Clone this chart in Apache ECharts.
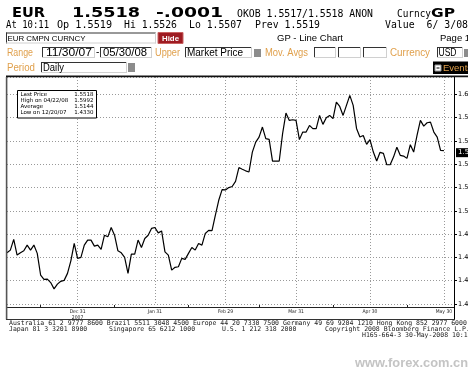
<!DOCTYPE html>
<html><head><meta charset="utf-8">
<script src="https://cdn.jsdelivr.net/npm/echarts@6/dist/echarts.min.js"></script>
<style>html,body{margin:0;padding:0;background:#fff}#c{width:468px;height:369px}</style>
</head><body><div id="c"></div>
<script>
// ---- data ----
const startDate = [2007, 10, 30];   // 30 Nov 2007 (UTC, month 0-based)
const endDate = [2008, 4, 30];      // 30 May 2008
const values = [
1.4640,1.4663,1.4755,1.4620,1.4640,1.4657,1.4706,1.4663,1.4706,1.4635,
1.4449,1.4412,1.4414,1.4384,1.4330,1.4371,1.4395,1.4403,1.4463,1.4571,
1.4720,1.4592,1.4600,1.4706,1.4749,1.4749,1.4697,1.4706,1.4669,1.4791,
1.4777,1.4857,1.4791,1.4657,1.4640,1.4600,1.4463,1.4629,1.4629,1.4749,
1.4686,1.4763,1.4791,1.4849,1.4857,1.4811,1.4828,1.4648,1.4620,1.4491,
1.4515,1.4520,1.4592,1.4583,1.4635,1.4686,1.4663,1.4720,1.4706,1.4806,
1.4832,1.4830,1.4963,1.5091,1.5183,1.5180,1.5200,1.5209,1.5254,1.5372,
1.5357,1.5344,1.5334,1.5505,1.5591,1.5634,1.5720,1.5620,1.5614,1.5428,
1.5428,1.5428,1.5663,1.5840,1.5777,1.5783,1.5777,1.5612,1.5677,1.5677,
1.5734,1.5706,1.5706,1.5820,1.5743,1.5800,1.5820,1.5792,1.5934,1.5897,
1.5820,1.5906,1.5992,1.5906,1.5708,1.5634,1.5648,1.5571,1.5612,1.5505,
1.5428,1.5503,1.5494,1.5396,1.5396,1.5462,1.5546,1.5477,1.5471,1.5451,
1.5569,1.5505,1.5648,1.5777,1.5728,1.5757,1.5762,1.5677,1.5634,1.5520,
1.5518
];
const monthEndDates = ['2007-12-31','2008-01-31','2008-02-29','2008-03-31','2008-04-30','2008-05-30'];
const monthEndLabels = ['Dec 31\n2007','Jan 31','Feb 29','Mar 31','Apr 30','May 30'];
const midTickDates = ['2007-12-14','2008-01-15','2008-02-14','2008-03-14','2008-04-15','2008-05-15'];
const yMin = 1.42, yMax = 1.615, yStep = 0.02;
const lastPrice = 1.5518;
const legendRows = [['Last Price','1.5518'],['High on 04/22/08','1.5992'],['Average','1.5144'],['Low on 12/20/07','1.4330']];
const padDays = 3;

// ---- categories: weekdays of the range ----
const categories = [];
{
  let t = Date.UTC(startDate[0], startDate[1], startDate[2]);
  const end = Date.UTC(endDate[0], endDate[1], endDate[2]);
  while (t <= end) {
    const d = new Date(t);
    const wd = d.getUTCDay();
    if (wd !== 0 && wd !== 6) categories.push(d.toISOString().slice(0, 10));
    t += 86400000;
  }
  for (let i = 0; i < padDays; i++) categories.push('pad' + i);
}
const labelIdx = monthEndDates.map(d => categories.indexOf(d));
const midIdx = midTickDates.map(d => categories.indexOf(d));

// ---- helpers for the terminal header ----
const mctx = document.createElement('canvas').getContext('2d');
function T(text, x, y, w, font, fill, extra) {
  mctx.font = font;
  const m = mctx.measureText(text).width;
  return Object.assign({ type: 'text', x: x, y: y, scaleX: w ? w / m : 1, z: 20,
    style: { text: text, font: font, fill: fill || '#000', verticalAlign: 'middle' } }, extra || {});
}
function L(x1, y1, x2, y2, stroke, lw) {
  return { type: 'line', z: 20, shape: { x1, y1, x2, y2 }, style: { stroke: stroke || '#000', lineWidth: lw || 1 } };
}
function R(x, y, w, h, fill, stroke) {
  return { type: 'rect', z: 19, shape: { x, y, width: w, height: h }, style: { fill: fill, stroke: stroke || null, lineWidth: 1 } };
}
function box(x, y, w, h) {
  return [R(x, y, w, h, '#fff'), L(x, y + 0.5, x + w, y + 0.5, '#333'), L(x + 0.5, y, x + 0.5, y + h, '#333'),
          L(x, y + h - 0.5, x + w, y + h - 0.5, '#d0d0d0'), L(x + w - 0.5, y, x + w - 0.5, y + h, '#d0d0d0')];
}
const ORANGE = '#E0A04C';
const BIG = 'bold 14px "DejaVu Sans"';
const MONO = '10.5px "DejaVu Sans Mono"';
const SANS10 = '10px "Liberation Sans"';
const FOOT = '6.5px "DejaVu Sans Mono"';

const g = [];
// line 1
g.push(T('EUR', 12, 13.5, 33, BIG));
g.push(T('1.5518', 72, 13.5, 68, BIG));
g.push(T('-.0001', 156, 13.5, 67, BIG));
g.push(T('OKOB 1.5517/1.5518 ANON', 237, 14, 136, MONO));
g.push(T('Curncy', 397, 14, 34, MONO));
g.push(T('GP', 431, 13.5, 24, 'bold 13px "DejaVu Sans"'));
// line 2
g.push(T('At 10:11', 6, 25, 43, MONO));
g.push(T('Op 1.5519', 57, 25, 55, MONO));
g.push(T('Hi 1.5526', 124, 25, 53, MONO));
g.push(T('Lo 1.5507', 189, 25, 53, MONO));
g.push(T('Prev 1.5519', 255, 25, 65, MONO));
g.push(T('Value  6/ 3/08', 385, 25, 83, MONO));
// line 3
g.push(...box(6, 32.5, 150, 11));
g.push(T('EUR CMPN CURNCY', 7.5, 38.5, 78, '8px "Liberation Sans"'));
g.push(R(158, 32.5, 25, 11, '#9E1B22', '#c86060'));
g.push(T('Hide', 162, 38.5, 17, 'bold 8px "Liberation Sans"', '#fff'));
g.push(T('GP - Line Chart', 277, 38.5, 66, '9.5px "Liberation Sans"'));
g.push(T('Page 1', 440, 38.5, 0, '9.5px "Liberation Sans"'));
// line 4
g.push(T('Range', 7, 53, 26, SANS10, ORANGE));
g.push(...box(42, 47, 53, 11)); g.push(T('11/30/07', 46, 53, 46, SANS10));
g.push(T('-', 96, 52.5, 0, SANS10));
g.push(...box(100, 47, 52, 11)); g.push(T('05/30/08', 103, 53, 44, SANS10));
g.push(T('Upper', 155, 53, 25, SANS10, ORANGE));
g.push(...box(185, 47, 67, 11)); g.push(T('Market Price', 187, 53, 56, SANS10));
g.push(R(254, 49, 7, 8, '#8c8c8c'));
g.push(T('Mov. Avgs', 265, 53, 43, SANS10, ORANGE));
g.push(...box(314, 47, 22, 11)); g.push(...box(338, 47, 23, 11)); g.push(...box(363, 47, 24, 11));
g.push(T('Currency', 390, 53, 40, SANS10, ORANGE));
g.push(...box(437, 47, 26, 11)); g.push(T('USD', 438.5, 53, 18, SANS10));
g.push(R(464, 49, 7, 8, '#8c8c8c'));
// line 5
g.push(T('Period', 7, 68, 28, SANS10, ORANGE));
g.push(...box(41, 62, 86, 11)); g.push(T('Daily', 43, 68, 21, SANS10));
g.push(R(128, 63, 7, 9, '#8c8c8c'));
g.push(R(433, 61.5, 36, 12.5, '#000'));
g.push(R(435, 65, 6, 6, '#fff', '#999'));
g.push(L(436.5, 68, 439.5, 68, '#000'));
g.push(T('Events', 443, 68, 0, '9.5px "Liberation Sans"', ORANGE));
// separator and chart frame
g.push(R(6, 75.5, 462, 1.8, '#111'));
g.push(R(5.8, 77, 1.6, 242.5, '#555'));
g.push(L(454.5, 77, 454.5, 320, '#000'));
g.push(L(6, 319.5, 455, 319.5, '#333'));
// legend box
g.push(Object.assign(R(17.5, 90.5, 79, 27.5, '#fff', '#000'), { z: 30 }));
legendRows.forEach((r, i) => {
  const y = 94.5 + i * 6;
  g.push(Object.assign(T(r[0], 20.5, y, 0, '5.5px "DejaVu Sans"'), { z: 31 }));
  g.push({ type: 'text', x: 93.5, y: y, z: 31, style: { text: r[1], font: '5.5px "DejaVu Sans"', fill: '#000', align: 'right', verticalAlign: 'middle' } });
});
// footer
g.push(T('Australia 61 2 9777 8600 Brazil 5511 3048 4500 Europe 44 20 7330 7500 Germany 49 69 9204 1210 Hong Kong 852 2977 6000', 9, 323.5, 0, FOOT, '#222'));
g.push(T('Japan 81 3 3201 8900', 9, 329.5, 0, FOOT, '#222'));
g.push(T('Singapore 65 6212 1000', 109, 329.5, 0, FOOT, '#222'));
g.push(T('U.S. 1 212 318 2000', 222, 329.5, 0, FOOT, '#222'));
g.push(T('Copyright 2008 Bloomberg Finance L.P.', 325, 329.5, 0, FOOT, '#222'));
g.push(T('H165-664-3 30-May-2008 10:11:40', 362, 335.5, 0, FOOT, '#222'));
g.push(T('www.forex.com.cn', 355, 363, 113, 'bold 13px "Liberation Sans"', '#c4c4c4'));

const chart = echarts.init(document.getElementById('c'), null, { renderer: 'canvas' });
chart.setOption({
  animation: false,
  backgroundColor: '#fff',
  grid: { left: 7, right: 14, top: 77, bottom: 65, containLabel: false, outerBoundsMode: 'none' },
  xAxis: {
    type: 'category', data: categories, boundaryGap: false, offset: 3,
    axisLine: { lineStyle: { color: '#222', width: 1 } },
    axisTick: { show: true, inside: true, length: 2, interval: i => midIdx.includes(i), lineStyle: { color: '#222' } },
    axisLabel: {
      interval: i => labelIdx.includes(i), hideOverlap: false,
      formatter: (v) => { const k = monthEndDates.indexOf(v); return k >= 0 ? monthEndLabels[k] : ''; },
      fontSize: 5, lineHeight: 5.5, color: '#222', margin: 2, fontFamily: '"Liberation Sans Narrow", "DejaVu Sans Condensed", sans-serif'
    },
    splitLine: { show: true, interval: i => labelIdx.includes(i), lineStyle: { color: '#999', type: [1, 2], width: 1 } }
  },
  yAxis: {
    type: 'value', position: 'right', min: yMin, max: yMax, interval: yStep,
    axisLine: { show: true, lineStyle: { color: '#000' } },
    axisTick: { show: true, length: 3, lineStyle: { color: '#000' } },
    axisLabel: { margin: 4, fontSize: 6.5, color: '#000', fontFamily: 'DejaVu Sans', showMaxLabel: false, hideOverlap: false, formatter: v => v.toFixed(2) },
    splitLine: { show: true, lineStyle: { color: '#999', type: [1, 2], width: 1 } }
  },
  series: [{
    type: 'line', data: values, showSymbol: false, symbol: 'none',
    lineStyle: { color: '#000', width: 1.2 }, z: 5,
    markLine: {
      silent: true, symbol: 'none', animation: false,
      lineStyle: { color: 'rgba(0,0,0,0)', width: 0 },
      label: { show: true, position: 'end', formatter: lastPrice.toFixed(4), color: '#fff', backgroundColor: '#000', padding: [1, 2], fontSize: 7, distance: 2, fontFamily: 'DejaVu Sans' },
      data: [{ yAxis: lastPrice }]
    }
  }],
  graphic: g
});
</script></body></html>
